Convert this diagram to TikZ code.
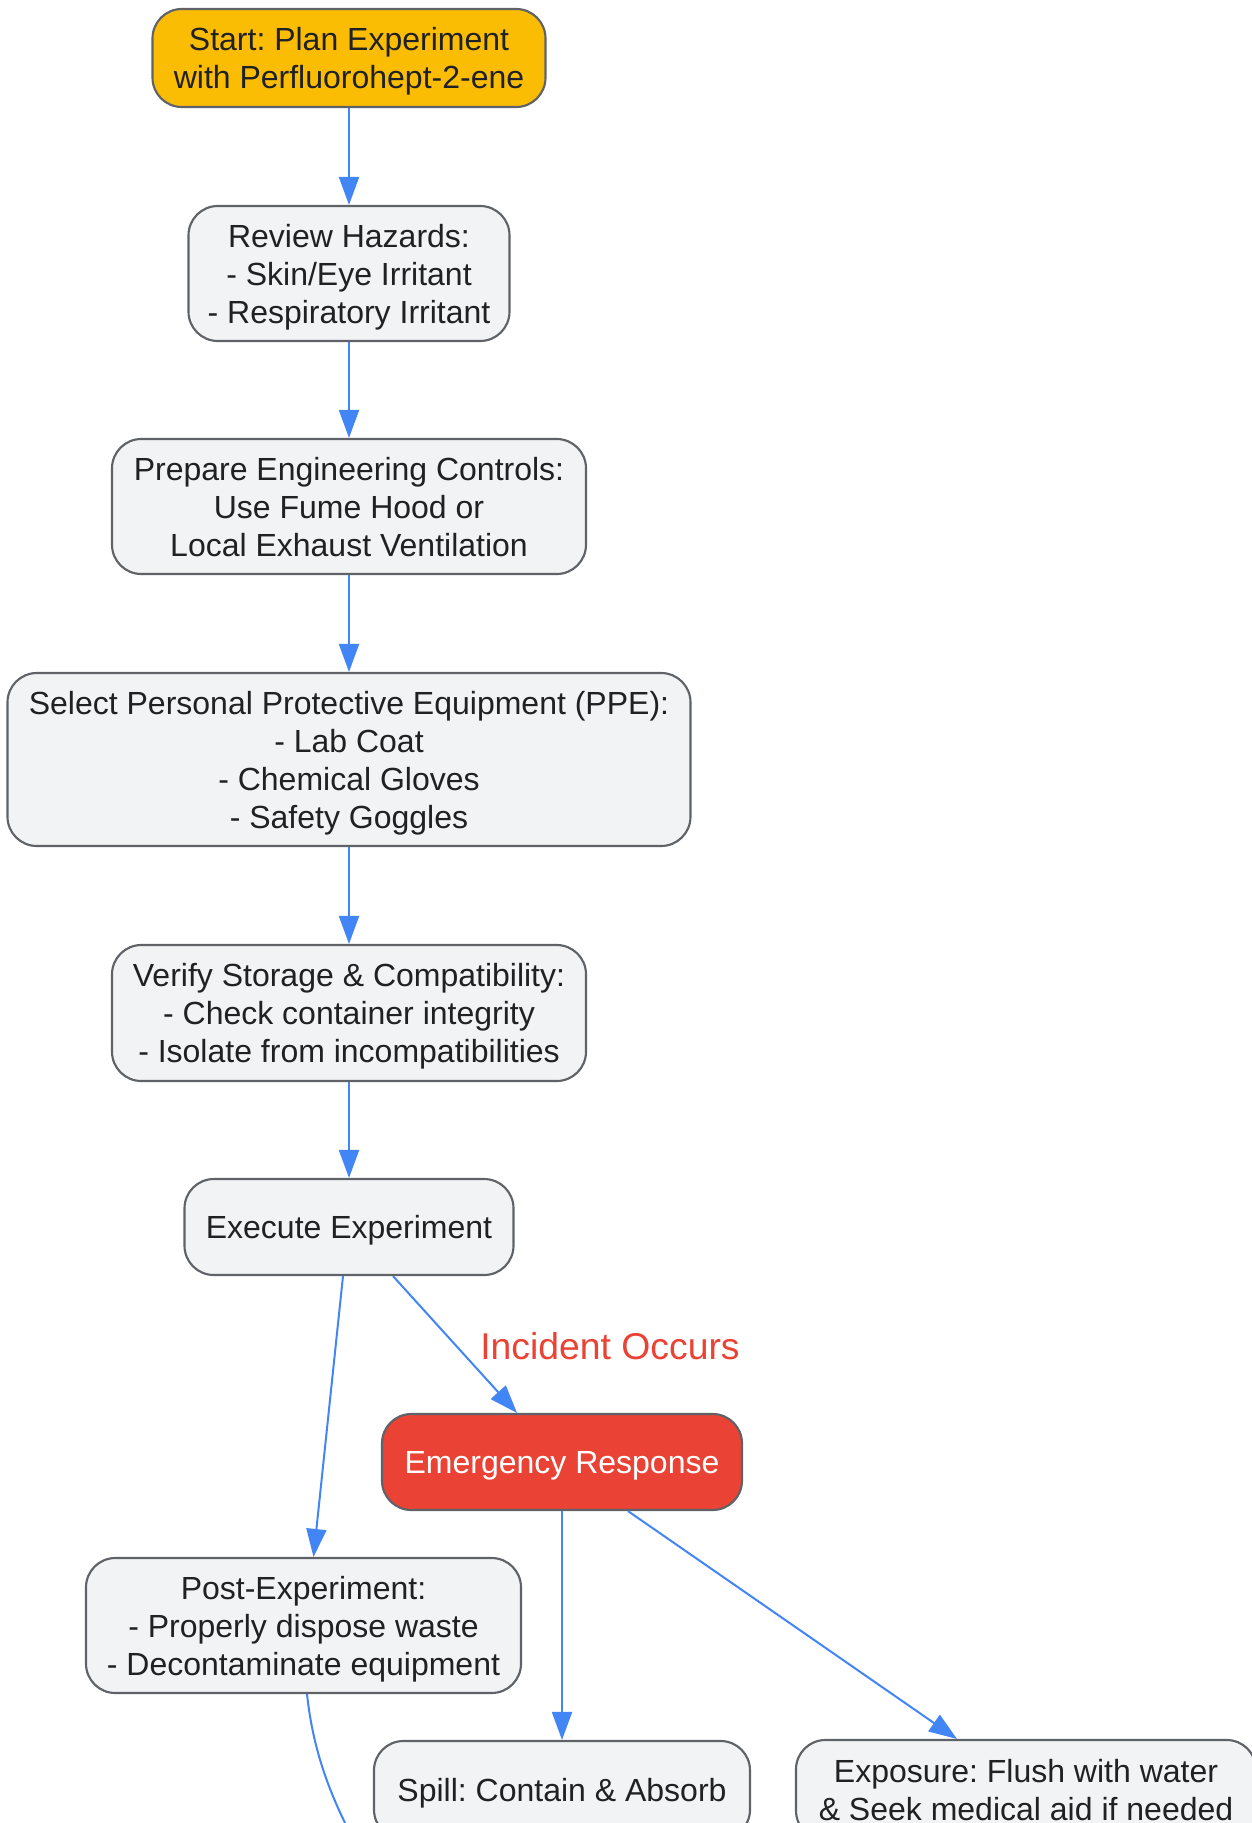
\documentclass[tikz,border=0pt]{standalone}
\usepackage{fontspec}
\setmainfont{Liberation Sans}
\usetikzlibrary{arrows.meta,calc}
\frenchspacing
\newcommand{\tallstrut}{\rule{0pt}{23pt}}
\definecolor{bgc}{HTML}{FFFFFF}
\definecolor{nodefill}{HTML}{F1F3F4}
\definecolor{nodeborder}{HTML}{5F6368}
\definecolor{txt}{HTML}{202124}
\definecolor{startfill}{HTML}{FBBC04}
\definecolor{alertred}{HTML}{EA4335}
\definecolor{edgeblue}{HTML}{4285F4}
\tikzset{
  box/.style={draw=nodeborder, line width=1.6pt, fill=nodefill, rounded corners=22pt,
    align=center, text=txt, font=\fontsize{24}{28.5}\selectfont, inner sep=0pt,
    execute at begin node={\rule{0pt}{23pt}},
    execute at end node={\rule[-5.5pt]{0pt}{5.5pt}}},
  startbox/.style={box, fill=startfill},
  alertbox/.style={box, fill=alertred, text=white},
  flow/.style={draw=edgeblue, line width=1.5pt, -{Triangle[length=21pt,width=15pt]}},
  flowplain/.style={draw=edgeblue, line width=1.5pt},
  edgelabel/.style={text=alertred, font=\fontsize{28}{33}\selectfont}
}
\begin{document}
\begin{tikzpicture}[x=0.75pt,y=-0.75pt]
\fill[bgc] (0,0) rectangle (1252,1823);
\useasboundingbox (0,0) rectangle (1252,1823);

\node[startbox, minimum width=393*0.75pt, minimum height=98*0.75pt] (start) at (349,58)
  {\tallstrut Start: Plan Experiment\\with Perfluorohept-2-ene};
\node[box, minimum width=321*0.75pt, minimum height=135*0.75pt] (review) at (349,273.5)
  {\tallstrut Review Hazards:\\- Skin/Eye Irritant\\- Respiratory Irritant};
\node[box, minimum width=474*0.75pt, minimum height=135*0.75pt] (prepare) at (349,506.5)
  {\tallstrut Prepare Engineering Controls:\\Use Fume Hood or\\Local Exhaust Ventilation};
\node[box, minimum width=683*0.75pt, minimum height=173*0.75pt] (ppe) at (349,759.5)
  {\tallstrut Select Personal Protective Equipment (PPE):\\- Lab Coat\\- Chemical Gloves\\- Safety Goggles};
\node[box, minimum width=474*0.75pt, minimum height=136*0.75pt] (verify) at (349,1013)
  {\tallstrut Verify Storage \& Compatibility:\\- Check container integrity\\- Isolate from incompatibilities};
\node[box, minimum width=329*0.75pt, minimum height=96*0.75pt] (execute) at (349,1227)
  {Execute Experiment};
\node[alertbox, minimum width=360*0.75pt, minimum height=96*0.75pt] (emergency) at (562,1462)
  {Emergency Response};
\node[box, minimum width=435*0.75pt, minimum height=135*0.75pt] (post) at (303.5,1625.5)
  {\tallstrut Post-Experiment:\\- Properly dispose waste\\- Decontaminate equipment};
\node[box, minimum width=376*0.75pt, minimum height=98*0.75pt] (spill) at (562,1790)
  {Spill: Contain \& Absorb};
\node[box, minimum width=460*0.75pt, minimum height=100*0.75pt] (exposure) at (1026,1790)
  {\tallstrut Exposure: Flush with water\\\& Seek medical aid if needed};

\coordinate (offend) at (365,1860);

\draw[flow] (start) -- (review);
\draw[flow] (review) -- (prepare);
\draw[flow] (prepare) -- (ppe);
\draw[flow] (ppe) -- (verify);
\draw[flow] (verify) -- (execute);
\draw[flow] ($(execute.south)+(44,0)$) -- ($(emergency.north)+(-45,0)$);
\draw[flow] ($(execute.south)+(-6,0)$) -- ($(post.north)+(10,0)$);
\draw[flow] (emergency) -- (spill);
\draw[flow] ($(emergency.south)+(66,0)$) -- ($(exposure.north)+(-69,0)$);
\draw[flowplain] ($(post.south)+(3.5,0)$) .. controls (313,1750) and (330,1800) .. (offend);

\node[edgelabel] (incident) at (610,1346) {Incident Occurs};
\end{tikzpicture}
\end{document}
